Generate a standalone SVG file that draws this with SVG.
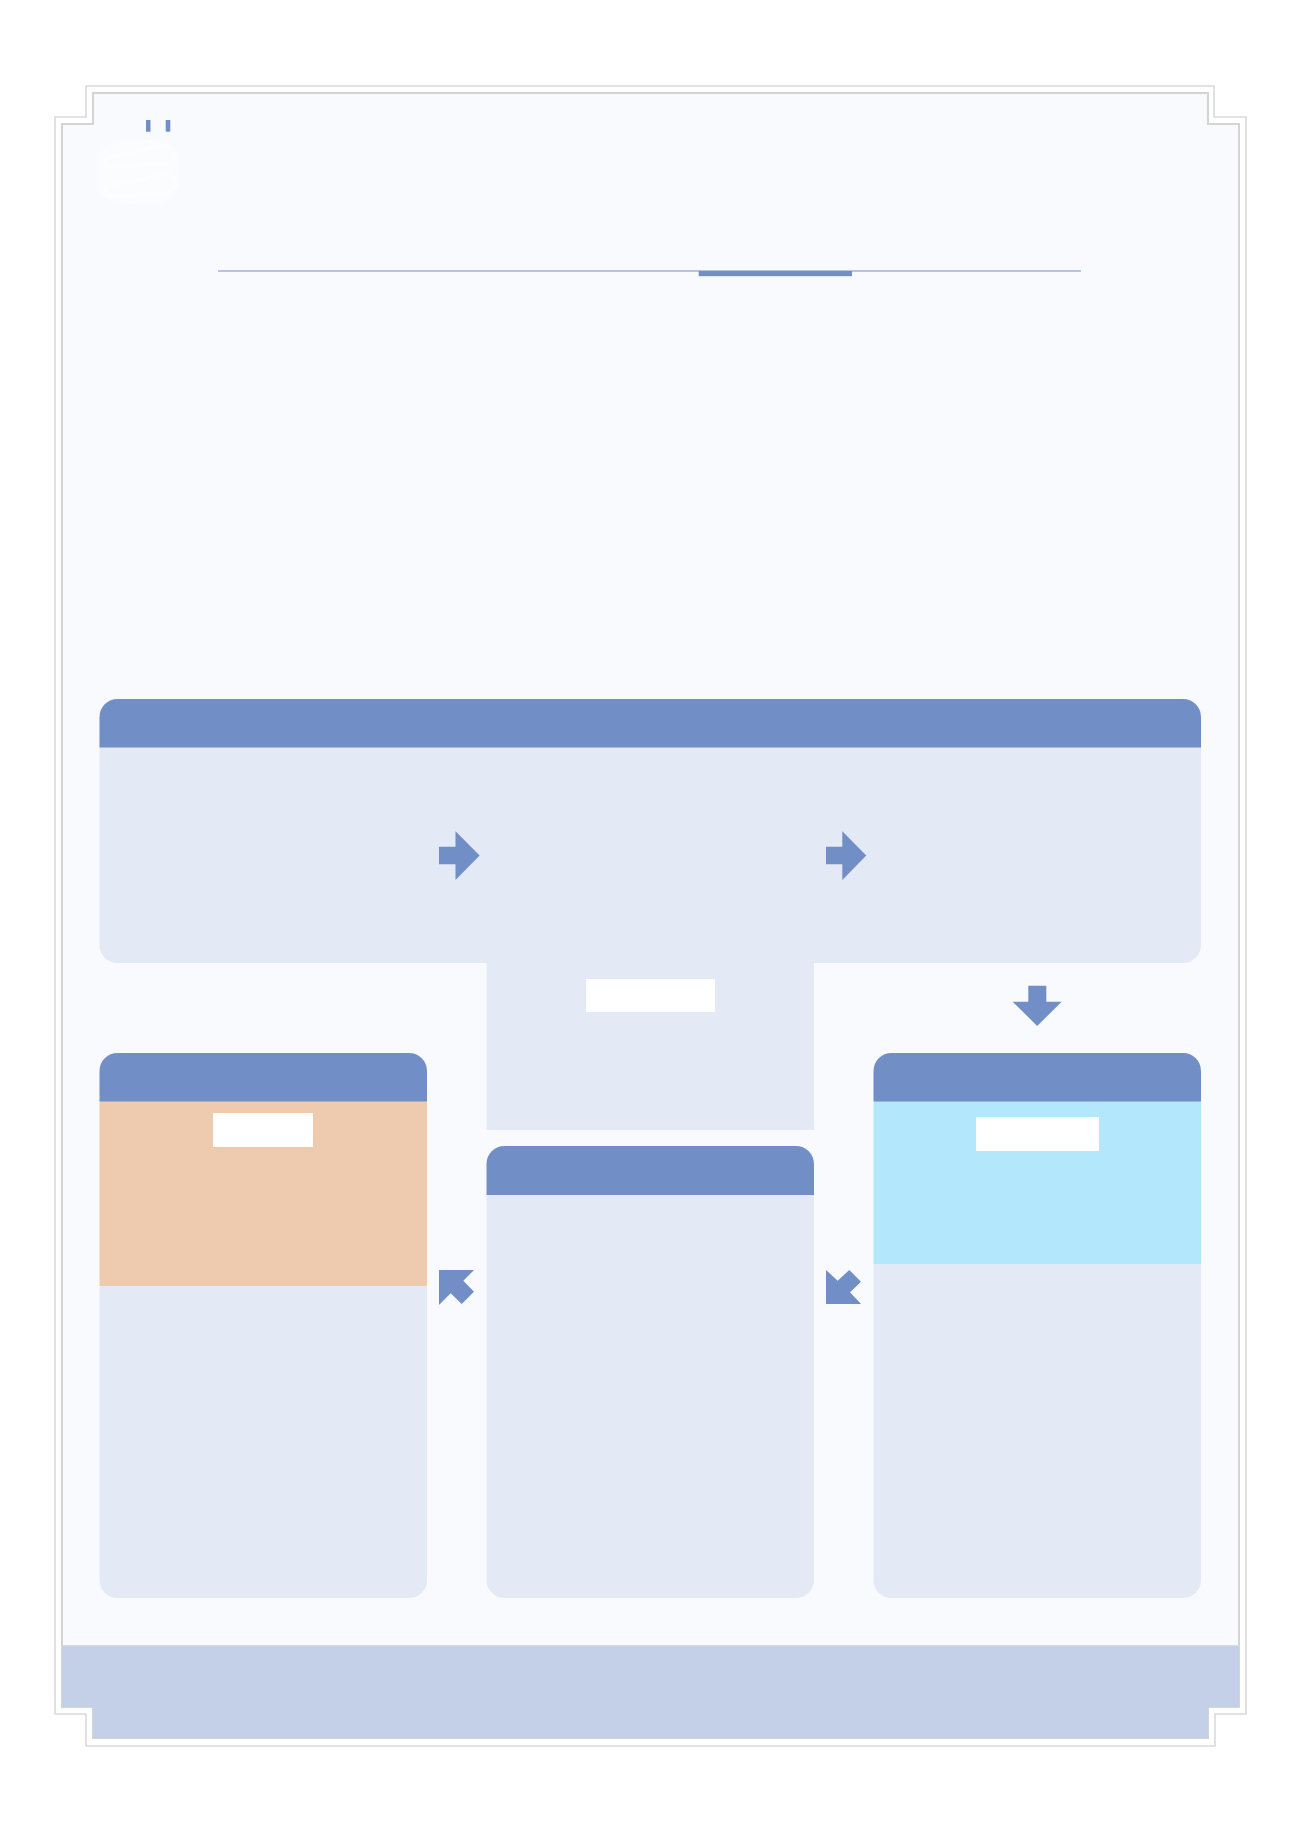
<svg xmlns="http://www.w3.org/2000/svg" width="1300" height="1839" viewBox="0 0 1300 1839">
  <style>
    .hdr { fill: #718ec6; }
    .body { fill: #e3e9f5; }
    .label { fill: #ffffff; }
    .arrow { fill: #718ec6; }
    .frame-outer { fill: none; stroke: #dadada; stroke-width: 1.6; }
    .frame-inner { fill: #f8fafe; stroke: #d4d4d4; stroke-width: 2; }
  </style>
  <defs>
    <clipPath id="innerClip">
      <path d="M93,93 H1208 V124 H1239 V1707 H1208 V1738 H93 V1707 H62 V124 H93 Z"/>
    </clipPath>
    <filter id="soft" x="-20%" y="-20%" width="140%" height="140%">
      <feGaussianBlur stdDeviation="1.5"/>
    </filter>
  </defs>
  <rect x="0" y="0" width="1300" height="1839" fill="#ffffff"/>

  <g id="frame">
    <path class="frame-outer" d="M86,86 H1214 V117 H1246 V1714 H1215 V1746 H86 V1714 H55 V117 H86 Z"/>
    <path class="frame-inner" d="M93,93 H1208 V124 H1239 V1707 H1208 V1738 H93 V1707 H62 V124 H93 Z"/>
    <rect x="62" y="1645" width="1177" height="94" fill="#c4d0e7" clip-path="url(#innerClip)"/>
    <line x1="62" y1="1645.5" x2="1239" y2="1645.5" stroke="#d3dcee" stroke-width="1"/>
  </g>

  <g id="header-decor">
    <rect x="146" y="120" width="4.5" height="11.7" fill="#718ec6"/>
    <rect x="165.7" y="120" width="4.6" height="11.7" fill="#718ec6"/>
    <g filter="url(#soft)" opacity="0.7">
      <rect x="98" y="140" width="80" height="64" rx="22" fill="#ffffff" opacity="0.5"/>
      <g fill="none" stroke="#ffffff" stroke-width="3" stroke-linecap="round">
        <path d="M104,160 C114,152 130,156 145,150 C158,145 168,142 174,150 C176,158 170,164 160,164 C140,164 120,168 106,166 Z"/>
        <path d="M104,188 C116,180 132,184 148,178 C160,174 170,172 176,180 C177,190 170,194 156,194 C136,194 118,198 106,196 Z"/>
      </g>
    </g>
    <line x1="218" y1="271" x2="1081" y2="271" stroke="#718ec6" stroke-width="1.2"/>
    <rect x="698.7" y="271" width="153.3" height="5" fill="#718ec6"/>
    <line x1="698.7" y1="276.6" x2="852" y2="276.6" stroke="#dfe6f4" stroke-width="1"/>
  </g>

  <g id="top-panel">
    <path class="body" d="M99.5,747 H1201 V945 A18,18 0 0 1 1183,963 H117.5 A18,18 0 0 1 99.5,945 Z"/>
    <path class="hdr" d="M99.5,717 A18,18 0 0 1 117.5,699 H1183 A18,18 0 0 1 1201,717 V747.5 H99.5 Z"/>
  </g>

  <g id="middle-top-box">
    <rect class="body" x="486.5" y="963" width="327.5" height="167"/>
    <rect class="label" x="586" y="979" width="129" height="33"/>
  </g>

  <g id="left-card">
    <path class="body" d="M99.5,1286 H427 V1580 A18,18 0 0 1 409,1598 H117.5 A18,18 0 0 1 99.5,1580 Z"/>
    <rect x="99.5" y="1101" width="327.5" height="185" fill="#eecbae"/>
    <path class="hdr" d="M99.5,1071 A18,18 0 0 1 117.5,1053 H409 A18,18 0 0 1 427,1071 V1101.5 H99.5 Z"/>
    <rect class="label" x="213" y="1113" width="100" height="34"/>
  </g>

  <g id="middle-card">
    <path class="body" d="M486.5,1195 H814 V1580 A18,18 0 0 1 796,1598 H504.5 A18,18 0 0 1 486.5,1580 Z"/>
    <path class="hdr" d="M486.5,1164 A18,18 0 0 1 504.5,1146 H796 A18,18 0 0 1 814,1164 V1195 H486.5 Z"/>
  </g>

  <g id="right-card">
    <path class="body" d="M873.5,1264 H1201 V1580 A18,18 0 0 1 1183,1598 H891.5 A18,18 0 0 1 873.5,1580 Z"/>
    <rect x="873.5" y="1101" width="327.5" height="163" fill="#b3e7fc"/>
    <path class="hdr" d="M873.5,1071 A18,18 0 0 1 891.5,1053 H1183 A18,18 0 0 1 1201,1071 V1101.5 H873.5 Z"/>
    <rect class="label" x="976" y="1117" width="123" height="34"/>
  </g>

  <g id="connectors">
    <polygon class="arrow" points="439,846.7 455.5,846.7 455.5,831.3 479.6,855.6 455.5,880 455.5,864.3 439,864.3"/>
    <polygon class="arrow" points="826,846.7 842.3,846.7 842.3,831.3 866.3,855.6 842.3,880 842.3,864.3 826,864.3"/>
    <polygon class="arrow" points="1028.3,985.7 1046.3,985.7 1046.3,1001.7 1061.7,1001.7 1037.2,1026 1012.7,1001.7 1028.3,1001.7"/>
    <polygon class="arrow" points="439,1270 474,1270 463.3,1280.7 474,1291.7 461.7,1304 450.7,1293.3 439,1305"/>
    <polygon class="arrow" points="826,1270 837.7,1280.7 849.3,1270 861,1281.7 850,1292.3 861,1304 826,1304"/>
  </g>
</svg>
